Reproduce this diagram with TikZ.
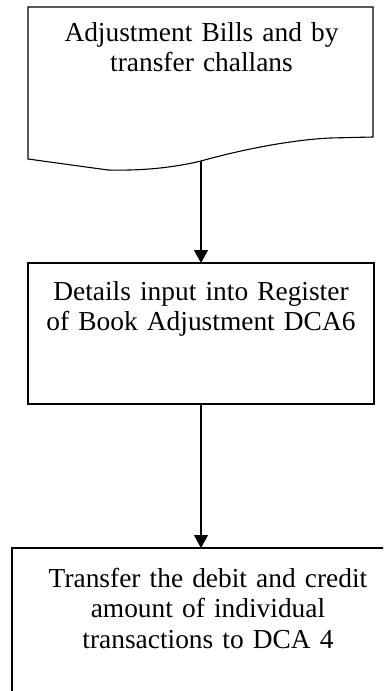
\documentclass[tikz,border=0pt]{standalone}
\usepackage{fontspec}
\setmainfont{Liberation Serif}
\usetikzlibrary{arrows.meta}
\tikzset{
  boxline/.style={draw=black, line width=1.1pt},
  plainbox/.style={boxline, rectangle, inner sep=0pt, outer sep=0pt, anchor=north west},
  txt/.style={inner sep=0pt, outer sep=0pt, align=center, text width=340pt,
    font=\fontsize{27.4}{30.5}\selectfont, anchor=base},
  conn/.style={line width=1.1pt, -{Triangle[length=13pt,width=14pt]}}
}
\begin{document}
\begin{tikzpicture}[x=1pt, y=-1pt]
\useasboundingbox (0,0) rectangle (383,691);
\clip (0,0) rectangle (383,691);
% document shape
\node[inner sep=0pt, outer sep=0pt, minimum width=345pt, minimum height=130pt, anchor=north west] (b1) at (28,7) {};
\draw[boxline, line join=miter] (28,159) -- (28,7) -- (373,7) -- (373,137) -- (330,138)
  .. controls (290,140) and (240,150) .. (201,161)
  .. controls (180,166) and (150,171) .. (108,170) -- cycle;
\coordinate (b1w) at (201,161);
\node[txt] (t1) at (201.5,41) {Adjustment Bills and by\\transfer challans};
% box 2
\node[plainbox, minimum width=346pt, minimum height=141pt] (b2) at (28,263) {};
\node[txt] (t2) at (201,300) {Details input into Register\\of Book Adjustment DCA6};
% box 3
\node[plainbox, minimum width=392pt, minimum height=160pt] (b3) at (12,548) {};
\node[txt] (t3) at (208,587) {Transfer the debit and credit\\amount of individual\\transactions to DCA 4};
% connectors
\draw[conn] (b1w) -- (b2.north -| b1w);
\draw[conn] (b2.south -| b1w) -- (b3.north -| b1w);
\end{tikzpicture}
\end{document}
